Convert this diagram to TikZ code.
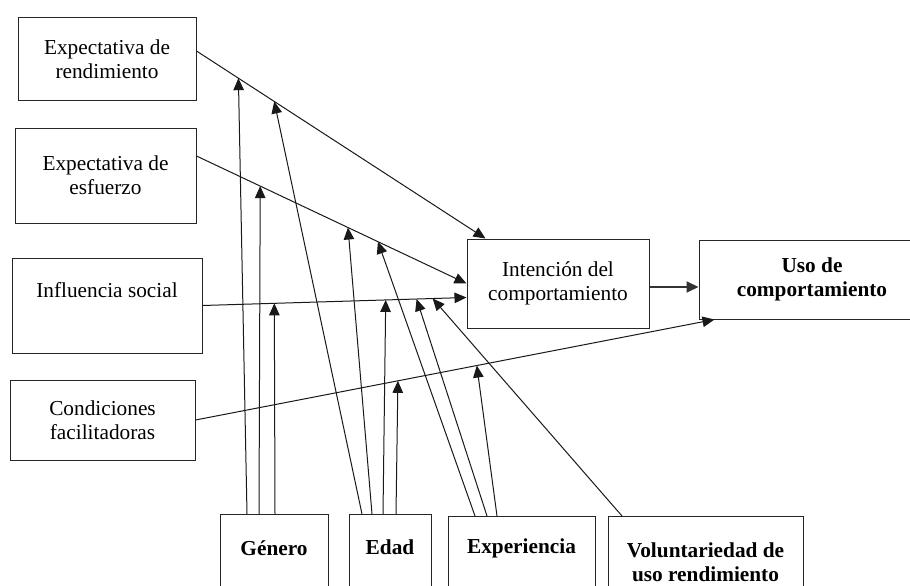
\documentclass[tikz,border=0pt]{standalone}
\usepackage{fontspec}
\setmainfont{Liberation Serif}
\usetikzlibrary{arrows.meta,calc}

\tikzset{
  box/.style={draw=black!85, line width=1pt, rectangle, inner sep=0pt, align=center,
    font=\fontsize{21.3}{24}\selectfont},
  boldbox/.style={box, font=\fontsize{21.3}{24}\selectfont\bfseries},
  lbl/.style={inner sep=0pt, align=center, font=\fontsize{21.3}{24}\selectfont\bfseries},
  arr/.style={draw=black!90, line width=1pt, -{Triangle[length=12pt,width=10.5pt]}},
  thickarr/.style={draw=black!80, line width=1.8pt, -{Triangle[length=12pt,width=11pt]}}
}

\begin{document}
\begin{tikzpicture}[x=1pt,y=-1pt]
\clip (0,0) rectangle (910,586);
\fill[white] (0,0) rectangle (910,586);

% determinants on the left
\node[box, minimum width=178pt, minimum height=82pt] (b1) at (107,59) {Expectativa de\\rendimiento};
\node[box, minimum width=181pt, minimum height=95pt] (b2) at (105.5,175.5) {Expectativa de\\esfuerzo};
\node[box, minimum width=190pt, minimum height=95pt] (b3) at (107,305.5) {Influencia social\\\strut};
\node[box, minimum width=185pt, minimum height=80pt] (b4) at (102.5,420) {Condiciones\\facilitadoras};

% intention and use
\node[box, minimum width=182pt, minimum height=89pt] (int) at (558,283.5) {Intención del\\comportamiento};
\node[boldbox, minimum width=226pt, minimum height=79pt] (uso) at (812,279.5) {Uso de\\comportamiento};

% moderators along the bottom
\node[box, minimum width=108pt, minimum height=110pt, anchor=north] (gen) at (274,514) {};
\node[box, minimum width=82pt, minimum height=110pt, anchor=north] (edad) at (390,514) {};
\node[box, minimum width=147pt, minimum height=110pt, anchor=north] (exp) at (521.5,516) {};
\node[box, minimum width=195pt, minimum height=110pt, anchor=north] (vol) at (705.5,516) {};
\node[lbl] (gent) at (274,548) {Género};
\node[lbl] (edadt) at (390,547) {Edad};
\node[lbl] (expt) at (521.5,548) {Experiencia};
\node[lbl] (volt) at (705.5,562) {Voluntariedad de\\uso rendimiento};

% main paths, with points where the moderators meet them
\draw[arr] ([yshift=8pt]b1.east) -- ([xshift=19pt]int.north west)
  coordinate[pos=0.145] (r1) coordinate[pos=0.269] (r2);
\draw[arr] ([yshift=19.5pt]b2.east) -- (int.west)
  coordinate[pos=0.236] (e1) coordinate[pos=0.561] (e2) coordinate[pos=0.672] (e3);
\draw[arr] (b3.east) -- ([yshift=-14pt]int.west)
  coordinate[pos=0.272] (s1) coordinate[pos=0.694] (s2) coordinate[pos=0.811] (s3) coordinate[pos=0.872] (s4);
\draw[arr] (b4.east) -- ([xshift=16pt]uso.south west)
  coordinate[pos=0.39] (c1) coordinate[pos=0.542] (c2);

\path ([yshift=-3.5pt]int.east) coordinate (ie);
\draw[thickarr] (ie) -- (ie -| uso.west);

% gender
\draw[arr] ([xshift=-27pt]gen.north) -- (r1);
\draw[arr] ([xshift=-15pt]gen.north) -- (e1);
\draw[arr] ([xshift=1pt]gen.north) -- (s1);
% age
\draw[arr] ([xshift=-28pt]edad.north) -- (r2);
\draw[arr] ([xshift=-18pt]edad.north) -- (e2);
\draw[arr] ([xshift=-7pt]edad.north) -- (s2);
\draw[arr] ([xshift=6pt]edad.north) -- (c1);
% experience
\draw[arr] ([xshift=-46.5pt]exp.north) -- (e3);
\draw[arr] ([xshift=-34.5pt]exp.north) -- (s3);
\draw[arr] ([xshift=-24.5pt]exp.north) -- (c2);
% voluntariness
\draw[arr] ([xshift=-83.5pt]vol.north) -- (s4);
\end{tikzpicture}
\end{document}
